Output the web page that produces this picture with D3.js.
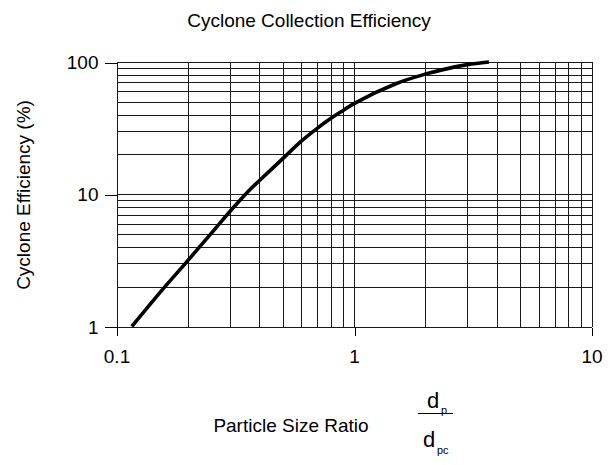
<!DOCTYPE html>
<html>
<head>
<meta charset="utf-8">
<script src="https://cdn.jsdelivr.net/npm/d3@7/dist/d3.min.js"></script>
<style>
  html, body { margin: 0; padding: 0; background: #fff; }
  svg { display: block; }
  text { font-family: "Liberation Sans", Arial, sans-serif; fill: #000; }
</style>
</head>
<body>
<svg id="chart" width="615" height="465"></svg>
<script>
// Particle size ratio dp/dpc and the collection efficiency (%) along the curve
const sizeRatio  = [0.116, 0.16, 0.195, 0.249, 0.31, 0.36, 0.4, 0.5, 0.6, 0.7, 0.8, 0.9, 1.0, 1.5, 2.0, 2.5, 3.0, 3.7];
const efficiency = [1, 2, 3, 5, 7.9, 10.6, 12.7, 18.5, 25.2, 31.5, 37.5, 43, 48.5, 68.5, 81, 89.5, 95.5, 100];

const xTickValues = [0.1, 1, 10];
const xTickLabels = ["0.1", "1", "10"];
const yTickValues = [1, 10, 100];
const yTickLabels = ["1", "10", "100"];

const titleText = "Cyclone Collection Efficiency";
const yTitleText = "Cyclone Efficiency (%)";
const xTitleText = "Particle Size Ratio";

const svg = d3.select("#chart");
const plot = { left: 116.5, right: 591.5, top: 62, bottom: 326.5 };

const x = d3.scaleLog().domain([0.1, 10]).range([plot.left, plot.right]);
const y = d3.scaleLog().domain([1, 100]).range([plot.bottom, plot.top]);

// minor + major grid values for each decade
function decadeGrid(lo, hi) {
  const v = [];
  for (let d = lo; d < hi; d *= 10) {
    for (let k = 1; k <= 10; k++) v.push(d * k);
  }
  return Array.from(new Set(v.map(n => +n.toPrecision(6))));
}
const xGrid = decadeGrid(0.1, 10);
const yGrid = decadeGrid(1, 100);

const g = svg.append("g").attr("shape-rendering", "crispEdges");

g.selectAll("line.vgrid").data(xGrid).join("line")
  .attr("class", "vgrid")
  .attr("x1", d => Math.round(x(d)) + 0.5).attr("x2", d => Math.round(x(d)) + 0.5)
  .attr("y1", plot.top).attr("y2", plot.bottom)
  .attr("stroke", "#1a1a1a").attr("stroke-width", 1);

g.selectAll("line.hgrid").data(yGrid).join("line")
  .attr("class", "hgrid")
  .attr("x1", plot.left).attr("x2", plot.right)
  .attr("y1", d => Math.round(y(d)) + 0.5).attr("y2", d => Math.round(y(d)) + 0.5)
  .attr("stroke", "#1a1a1a").attr("stroke-width", 1);

// Axes with outward ticks at each decade
const yAxis = d3.axisLeft(y).tickValues(yTickValues)
  .tickFormat((d, i) => yTickLabels[i]).tickSize(13).tickPadding(6);
const xAxis = d3.axisBottom(x).tickValues(xTickValues)
  .tickFormat((d, i) => xTickLabels[i]).tickSize(8).tickPadding(14);

const ya = svg.append("g").attr("transform", `translate(${Math.round(plot.left) + 0.5},0)`).call(yAxis);
const xa = svg.append("g").attr("transform", `translate(0,${Math.round(plot.bottom) + 0.5})`).call(xAxis);
[ya, xa].forEach(a => {
  a.select(".domain").remove();
  a.selectAll(".tick line").attr("stroke", "#000").attr("shape-rendering", "crispEdges");
  a.selectAll(".tick text").attr("font-size", 19).attr("font-family", "Liberation Sans, Arial, sans-serif").attr("fill", "#000");
});
ya.selectAll(".tick line").attr("y1", 0.5).attr("y2", 0.5);
xa.selectAll(".tick line").attr("x1", 0.5).attr("x2", 0.5);
ya.selectAll(".tick text").attr("dy", "0.35em");

// Efficiency curve
const line = d3.line()
  .x((d, i) => x(sizeRatio[i]))
  .y(d => y(d))
  .curve(d3.curveCatmullRom.alpha(0.5));

svg.append("path")
  .datum(efficiency)
  .attr("d", line)
  .attr("fill", "none")
  .attr("stroke", "#000")
  .attr("stroke-width", 3.6)
  .attr("stroke-linejoin", "round");

// Titles
svg.append("text")
  .attr("x", 309).attr("y", 27)
  .attr("text-anchor", "middle").attr("font-size", 19)
  .text(titleText);

svg.append("text")
  .attr("transform", "translate(30,195) rotate(-90)")
  .attr("text-anchor", "middle").attr("font-size", 19)
  .text(yTitleText);

svg.append("text")
  .attr("x", 291).attr("y", 432)
  .attr("text-anchor", "middle").attr("font-size", 19)
  .text(xTitleText);

// dp / dpc fraction
const frac = svg.append("g");
frac.append("text").attr("x", 427).attr("y", 408).attr("font-size", 22).text("d");
frac.append("text").attr("x", 441).attr("y", 414).attr("font-size", 11).text("p");
frac.append("line")
  .attr("x1", 418).attr("x2", 453).attr("y1", 413.5).attr("y2", 413.5)
  .attr("stroke", "#000").attr("stroke-width", 1).attr("shape-rendering", "crispEdges");
frac.append("text").attr("x", 423).attr("y", 447).attr("font-size", 22).text("d");
frac.append("text").attr("x", 437).attr("y", 454).attr("font-size", 11).text("pc");
</script>
</body>
</html>
